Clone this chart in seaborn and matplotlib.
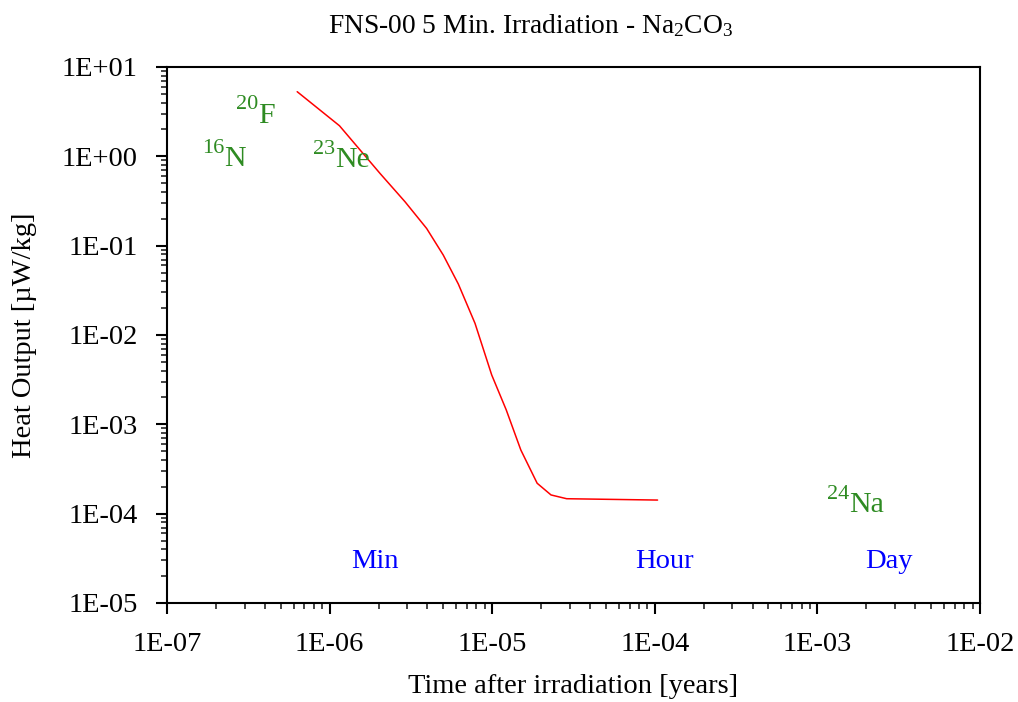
import numpy as np
import pandas as pd
import matplotlib
matplotlib.use("Agg")
import matplotlib.pyplot as plt
import seaborn as sns
from matplotlib.ticker import LogLocator, FuncFormatter, NullFormatter

# Data
time_years = [6.32e-7, 1.15e-6, 2.04e-6, 2.91e-6, 3.95e-6, 5.0e-6, 6.19e-6, 7.84e-6,
              9.93e-6, 1.22e-5, 1.50e-5, 1.89e-5, 2.30e-5, 2.87e-5, 1.04e-4]
heat_output = [5.29, 2.20, 0.645, 0.310, 0.156, 0.0785, 0.0372, 0.0135,
               0.00357, 0.00145, 5.16e-4, 2.19e-4, 1.62e-4, 1.47e-4, 1.42e-4]

# Nuclide labels: mass number (superscript), element, anchor at junction / baseline
nuclide_mass = ["20", "16", "23", "24"]
nuclide_elem = ["F", "N", "Ne", "Na"]
nuclide_x = [3.64e-7, 2.24e-7, 1.08e-6, 1.56e-3]
nuclide_y = [2.38, 0.780, 0.754, 1.05e-4]

time_labels = ["Min", "Hour", "Day"]
time_label_x = [1.9e-6, 1.14e-4, 2.74e-3]
time_label_y = 2.47e-5

sns.set_style("white")
plt.rcParams["font.family"] = ["Liberation Serif", "DejaVu Serif"]
plt.rcParams["mathtext.fontset"] = "custom"
plt.rcParams["mathtext.rm"] = "Liberation Serif"
plt.rcParams["mathtext.it"] = "Liberation Serif:italic"
plt.rcParams["text.color"] = "black"
plt.rcParams["axes.labelcolor"] = "black"

FS = 20.5

fig = plt.figure(figsize=(10.18, 7.02), dpi=100)
ax = fig.add_axes([167/1018, 1-603/702, (980-167)/1018, (603-67)/702])

df = pd.DataFrame({"t": time_years, "h": heat_output})
sns.lineplot(data=df, x="t", y="h", ax=ax, color="red", linewidth=1.1)

ax.set_xscale("log")
ax.set_yscale("log")
ax.set_xlim(1e-7, 1e-2)
ax.set_ylim(1e-5, 1e1)

fmt = FuncFormatter(lambda v, p: "1E%+03d" % int(round(np.log10(v))))
ax.xaxis.set_major_locator(LogLocator(base=10, numticks=20))
ax.yaxis.set_major_locator(LogLocator(base=10, numticks=20))
ax.xaxis.set_minor_locator(LogLocator(base=10, subs=np.arange(2, 10), numticks=20))
ax.yaxis.set_minor_locator(LogLocator(base=10, subs=np.arange(2, 10), numticks=20))
ax.xaxis.set_major_formatter(fmt)
ax.yaxis.set_major_formatter(fmt)
ax.xaxis.set_minor_formatter(NullFormatter())
ax.yaxis.set_minor_formatter(NullFormatter())

ax.tick_params(axis="both", which="major", direction="out", length=8, width=1.5,
               labelsize=FS, colors="black", bottom=True, left=True)
ax.tick_params(axis="x", which="major", pad=13)
ax.tick_params(axis="y", which="major", pad=13)
ax.tick_params(axis="both", which="minor", direction="out", length=4, width=1.2,
               bottom=True, left=True)
for s in ax.spines.values():
    s.set_linewidth(1.5)
    s.set_color("black")

ax.set_xlabel("Time after irradiation [years]", fontsize=FS, labelpad=12)
ax.set_ylabel("Heat Output [\u00b5W/kg]", fontsize=FS, labelpad=18)
fig.text(530/1018, 1 - 33/702, "FNS-00 5 Min. Irradiation - Na$_2$CO$_3$",
         fontsize=19.8, ha="center", va="baseline")

green = "#2e8b22"
for m, e, x, y in zip(nuclide_mass, nuclide_elem, nuclide_x, nuclide_y):
    ax.text(x, y, e, color=green, fontsize=21.5, ha="left", va="baseline")
    ax.annotate(m, xy=(x, y), xycoords="data", xytext=(0, 9.5),
                textcoords="offset points", color=green, fontsize=16,
                ha="right", va="baseline")
for lab, x in zip(time_labels, time_label_x):
    ax.text(x, time_label_y, lab, color="blue", fontsize=FS, ha="center", va="baseline")

fig.savefig("out.png", dpi=100)
